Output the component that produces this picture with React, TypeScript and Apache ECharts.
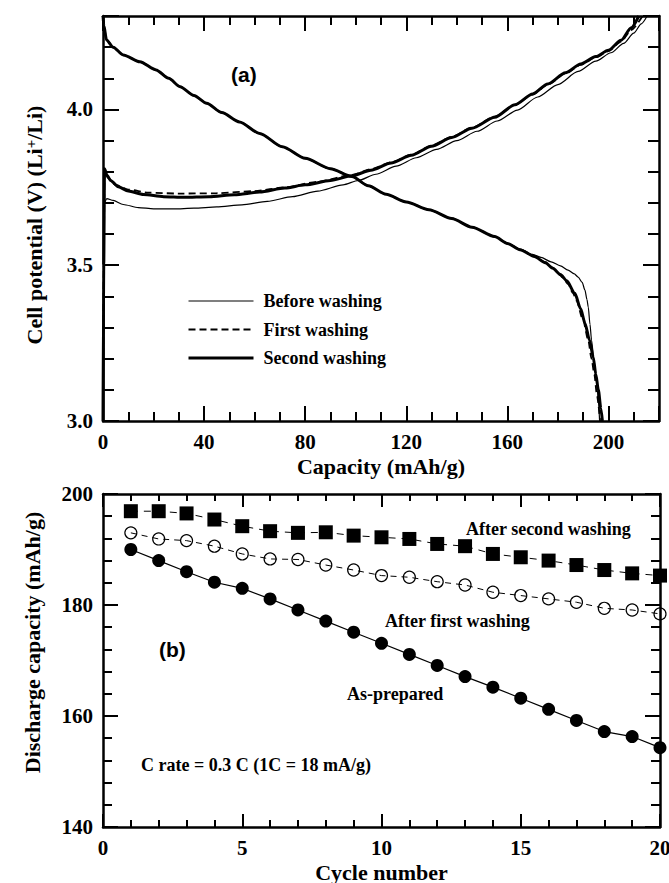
import React, { useEffect, useRef } from "react";
import * as echarts from "echarts";

const BLACK = "#000";
const SERIF = "Liberation Serif";
const SANS = "Liberation Sans";

// ---------- Panel (a): charge / discharge curves ----------
const dischargeCommonCap = [0, 0.3, 1.4, 4, 8, 14.6, 21, 26, 30.5, 36, 41, 47, 54, 62, 71, 80, 90, 98.5, 105, 112, 120, 129, 138, 146, 155, 160];
const dischargeCommonV = [4.3, 4.27, 4.223, 4.2, 4.175, 4.153, 4.127, 4.1, 4.073, 4.045, 4.02, 3.99, 3.96, 3.923, 3.88, 3.843, 3.81, 3.785, 3.755, 3.728, 3.703, 3.678, 3.65, 3.622, 3.592, 3.57];

const dischargeTailSecondCap = [165, 170.7, 175, 178, 181, 183.5, 186.7, 189, 190.7, 192.5, 194, 195, 196, 197, 197.6];
const dischargeTailSecondV = [3.55, 3.528, 3.508, 3.49, 3.47, 3.45, 3.41, 3.36, 3.314, 3.26, 3.204, 3.15, 3.1, 3.04, 3.0];

const dischargeTailFirstCap = [165, 170, 175, 178, 180, 182, 184, 186, 187.3, 190, 192, 193.3, 194.4, 195.5, 196.7];
const dischargeTailFirstV = [3.551, 3.532, 3.51, 3.492, 3.475, 3.46, 3.44, 3.41, 3.387, 3.323, 3.26, 3.2, 3.15, 3.08, 3.0];

const dischargeTailBeforeCap = [165, 170, 173.3, 177.3, 181, 184, 186.5, 188, 189.6, 190.7, 191.5, 192, 192.7, 193.3, 194.2, 195, 195.6, 196, 196.5];
const dischargeTailBeforeV = [3.552, 3.535, 3.525, 3.511, 3.498, 3.484, 3.472, 3.462, 3.445, 3.42, 3.39, 3.366, 3.31, 3.26, 3.2, 3.15, 3.1, 3.065, 3.0];

const chargeSecondCap = [0, 0.3, 0.6, 1.5, 3, 6, 10, 16, 24, 32, 42, 52, 62, 72, 80, 90, 98.5, 106, 114, 122, 130, 138, 146, 155, 163, 170, 176, 183, 189, 195, 200, 205, 209, 212];
const chargeSecondV = [3.0, 3.5, 3.81, 3.79, 3.772, 3.752, 3.738, 3.727, 3.72, 3.718, 3.72, 3.726, 3.735, 3.748, 3.758, 3.772, 3.787, 3.805, 3.828, 3.853, 3.882, 3.91, 3.94, 3.975, 4.015, 4.05, 4.082, 4.118, 4.146, 4.17, 4.19, 4.222, 4.262, 4.3];

const chargeFirstCap = [0, 0.3, 0.6, 2, 5, 10, 18, 30, 45, 60, 72, 85, 98.5, 106, 114, 122, 130, 138, 146, 155, 163, 170, 176, 183, 189, 195, 200, 205, 209, 213.5];
const chargeFirstV = [3.0, 3.5, 3.8, 3.78, 3.758, 3.743, 3.733, 3.73, 3.731, 3.738, 3.75, 3.768, 3.79, 3.808, 3.83, 3.855, 3.884, 3.912, 3.942, 3.977, 4.015, 4.048, 4.08, 4.115, 4.143, 4.167, 4.187, 4.218, 4.255, 4.3];

const chargeBeforeCap = [0, 0.3, 0.5, 1.5, 4, 8, 14, 20, 28, 36, 45, 55, 65, 75, 85, 95, 101, 108, 116, 124, 132, 140, 148, 156, 164, 172, 180, 188, 195, 201, 206, 210, 213, 215.3];
const chargeBeforeV = [3.0, 3.4, 3.7, 3.714, 3.708, 3.695, 3.685, 3.681, 3.681, 3.683, 3.687, 3.694, 3.705, 3.72, 3.738, 3.758, 3.772, 3.792, 3.818, 3.845, 3.872, 3.9, 3.93, 3.963, 3.998, 4.04, 4.08, 4.122, 4.155, 4.182, 4.212, 4.245, 4.275, 4.3];

const legendNames = ["Before washing", "First washing", "Second washing"];

// ---------- Panel (b): cycling ----------
const cycles = [1, 2, 3, 4, 5, 6, 7, 8, 9, 10, 11, 12, 13, 14, 15, 16, 17, 18, 19, 20];
const afterSecond = [196.9, 196.9, 196.5, 195.4, 194.2, 193.3, 193.0, 193.1, 192.5, 192.2, 191.9, 191.0, 190.6, 189.2, 188.6, 188.0, 187.2, 186.3, 185.7, 185.3];
const afterFirst = [193.0, 191.9, 191.6, 190.6, 189.2, 188.3, 188.2, 187.2, 186.3, 185.3, 185.0, 184.2, 183.6, 182.3, 181.7, 181.1, 180.5, 179.4, 179.1, 178.4];
const asPrepared = [190.0, 188.0, 186.0, 184.1, 183.0, 181.1, 179.1, 177.1, 175.1, 173.1, 171.1, 169.1, 167.1, 165.2, 163.2, 161.2, 159.2, 157.2, 156.3, 154.3];

const zip = (xs: number[], ys: number[]) => xs.map((x, i) => [x, ys[i]]);

const labelFont = { color: BLACK, fontFamily: SERIF, fontWeight: "bold", fontSize: 21 };
const nameFont = { color: BLACK, fontFamily: SERIF, fontWeight: "bold", fontSize: 22 };

function axisBase(gridIndex: number, position: string, min: number, max: number, interval: number, tickLen: number, line: boolean): any {
  return {
    type: "value",
    gridIndex,
    position,
    min,
    max,
    interval,
    nameMoveOverlap: false,
    axisLine: { show: line, onZero: false, lineStyle: { color: BLACK, width: 2.5 } },
    axisTick: { show: true, inside: true, length: tickLen, lineStyle: { color: BLACK, width: 2 } },
    axisLabel: { show: false },
    splitLine: { show: false },
    minorTick: { show: false },
  };
}

const xAxes = [
  // panel a
  {
    ...axisBase(0, "bottom", 0, 220, 40, 15, true),
    axisLabel: {
      show: true,
      margin: 10,
      ...labelFont,
      formatter: (v: number) => (Math.abs(v % 40) < 1e-6 ? String(v) : ""),
    },
    name: "Capacity (mAh/g)",
    nameLocation: "middle",
    nameGap: 34,
    nameTextStyle: nameFont,
  },
  axisBase(0, "bottom", 0, 220, 10, 9, false),
  axisBase(0, "top", 0, 220, 40, 15, true),
  axisBase(0, "top", 0, 220, 10, 9, false),
  // panel b
  {
    ...axisBase(1, "bottom", 0, 20, 5, 13, true),
    axisLabel: { show: true, margin: 10, ...labelFont },
    name: "Cycle number",
    nameLocation: "middle",
    nameGap: 34,
    nameTextStyle: nameFont,
  },
  axisBase(1, "bottom", 0, 20, 1, 7, false),
  axisBase(1, "top", 0, 20, 5, 13, true),
  axisBase(1, "top", 0, 20, 1, 7, false),
];

const yAxes = [
  {
    ...axisBase(0, "left", 3.0, 4.3, 0.5, 16, true),
    axisLabel: {
      show: true,
      margin: 10,
      ...labelFont,
      formatter: (v: number) => (Math.abs(v * 2 - Math.round(v * 2)) < 1e-6 ? v.toFixed(1) : ""),
    },
    name: "Cell potential (V) (Li{sup|+}/Li)",
    nameLocation: "middle",
    nameGap: 58,
    nameRotate: 90,
    nameTextStyle: {
      ...nameFont,
      padding: [0, 13, 0, 0],
      rich: {
        sup: { fontSize: 15, fontFamily: SERIF, fontWeight: "bold", color: BLACK, verticalAlign: "top", padding: [0, 0, 6, 0] },
      },
    },
  },
  axisBase(0, "left", 3.0, 4.3, 0.1, 11, false),
  axisBase(0, "right", 3.0, 4.3, 0.5, 16, true),
  axisBase(0, "right", 3.0, 4.3, 0.1, 11, false),
  {
    ...axisBase(1, "left", 140, 200, 20, 15, true),
    axisLabel: { show: true, margin: 10, ...labelFont },
    name: "Discharge capacity (mAh/g)",
    nameLocation: "middle",
    nameGap: 60,
    nameRotate: 90,
    nameTextStyle: { ...nameFont, padding: [0, 0, 0, 36] },
  },
  axisBase(1, "left", 140, 200, 4, 9, false),
  axisBase(1, "right", 140, 200, 20, 15, true),
  axisBase(1, "right", 140, 200, 4, 9, false),
];

const styles: Record<string, any> = {
  "Before washing": { color: BLACK, width: 1.2, type: "solid" },
  "First washing": { color: BLACK, width: 1.8, type: [7, 4] },
  "Second washing": { color: BLACK, width: 3, type: "solid" },
};

function curve(name: string, data: number[][], z: number): any {
  return {
    type: "line",
    name,
    xAxisIndex: 0,
    yAxisIndex: 0,
    data,
    symbol: "none",
    showSymbol: false,
    smooth: 0.25,
    smoothMonotone: "x",
    lineStyle: styles[name],
    itemStyle: { color: BLACK },
    silent: true,
    z,
  };
}

const series: any[] = [
  curve("Second washing", zip(dischargeCommonCap.concat(dischargeTailSecondCap), dischargeCommonV.concat(dischargeTailSecondV)), 2),
  curve("Second washing", zip(chargeSecondCap, chargeSecondV), 2),
  curve("First washing", zip(dischargeCommonCap.concat(dischargeTailFirstCap), dischargeCommonV.concat(dischargeTailFirstV)), 3),
  curve("First washing", zip(chargeFirstCap, chargeFirstV), 3),
  curve("Before washing", zip(dischargeCommonCap.concat(dischargeTailBeforeCap), dischargeCommonV.concat(dischargeTailBeforeV)), 4),
  curve("Before washing", zip(chargeBeforeCap, chargeBeforeV), 4),
  {
    type: "line",
    name: "As-prepared",
    xAxisIndex: 4,
    yAxisIndex: 4,
    data: zip(cycles, asPrepared),
    symbol: "circle",
    symbolSize: 13,
    itemStyle: { color: BLACK },
    lineStyle: { color: BLACK, width: 1.2, type: "solid" },
    silent: true,
  },
  {
    type: "line",
    name: "After first washing",
    xAxisIndex: 4,
    yAxisIndex: 4,
    data: zip(cycles, afterFirst),
    symbol: "circle",
    symbolSize: 12,
    itemStyle: { color: "rgba(0,0,0,0)", borderColor: BLACK, borderWidth: 1.2 },
    lineStyle: { color: BLACK, width: 1, type: [6, 5] },
    silent: true,
  },
  {
    type: "line",
    name: "After second washing",
    xAxisIndex: 4,
    yAxisIndex: 4,
    data: zip(cycles, afterSecond),
    symbol: "rect",
    symbolSize: 14,
    itemStyle: { color: BLACK },
    lineStyle: { color: BLACK, width: 1, type: [7, 6] },
    silent: true,
  },
];

function label(text: string, x: number, y: number, size: number, family: string): any {
  return {
    type: "text",
    x,
    y,
    silent: true,
    style: {
      text,
      fill: BLACK,
      fontSize: size,
      fontWeight: "bold",
      fontFamily: family,
      align: "left",
      verticalAlign: "middle",
      textAlign: "left",
      textVerticalAlign: "middle",
    },
  };
}

const option: any = {
  animation: false,
  backgroundColor: "#fff",
  grid: [
    { left: 103, top: 16, width: 556, height: 405, containLabel: false, outerBoundsMode: "none" },
    { left: 103, top: 494, width: 557, height: 333, containLabel: false, outerBoundsMode: "none" },
  ],
  legend: {
    data: legendNames.map((name) => ({
      name,
      lineStyle: { ...styles[name], opacity: 1 },
      itemStyle: { opacity: 0, borderWidth: 0 },
    })),
    orient: "vertical",
    left: 182,
    top: 287,
    itemWidth: 65,
    itemHeight: 14,
    itemGap: 10.5,
    selectedMode: false,
    itemStyle: { opacity: 0, borderWidth: 0 },
    textStyle: { color: BLACK, fontFamily: SERIF, fontWeight: "bold", fontSize: 18, padding: [0, 0, 0, 5] },
  },
  xAxis: xAxes,
  yAxis: yAxes,
  series,
  graphic: [
    label("(a)", 231, 74, 21, SANS),
    label("(b)", 159, 649, 21, SANS),
    label("After second washing", 466, 529, 18, SERIF),
    label("After first washing", 385, 621, 18, SERIF),
    label("As-prepared", 347, 694, 18, SERIF),
    label("C rate = 0.3 C (1C = 18 mA/g)", 141, 765, 18, SERIF),
  ],
};

export default function App() {
  const ref = useRef<HTMLDivElement>(null);
  useEffect(() => {
    document.body.style.margin = "0";
    const chart = echarts.init(ref.current as HTMLDivElement, null, { renderer: "svg" });
    chart.setOption(option);
    return () => chart.dispose();
  }, []);
  return <div ref={ref} style={{ width: 669, height: 883, background: "#fff" }} />;
}
